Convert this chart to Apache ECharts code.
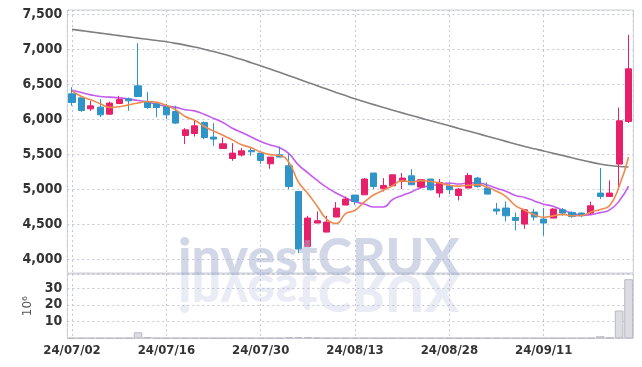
<!DOCTYPE html>
<html><head><meta charset="utf-8">
<script src="https://cdn.jsdelivr.net/npm/echarts@6/dist/echarts.min.js"></script>
<style>html,body{margin:0;padding:0;background:#fff}#c{width:642px;height:367px}</style>
</head><body><div id="c"></div>
<script>
const dates = ['24/07/02','24/07/03','24/07/04','24/07/05','24/07/08','24/07/09','24/07/10','24/07/11','24/07/12','24/07/15',
'24/07/16','24/07/17','24/07/18','24/07/19','24/07/22','24/07/23','24/07/24','24/07/25','24/07/26','24/07/29',
'24/07/30','24/07/31','24/08/01','24/08/02','24/08/05','24/08/06','24/08/07','24/08/08','24/08/09','24/08/12',
'24/08/13','24/08/14','24/08/16','24/08/19','24/08/20','24/08/21','24/08/22','24/08/23','24/08/26','24/08/27',
'24/08/28','24/08/29','24/08/30','24/09/02','24/09/03','24/09/04','24/09/05','24/09/06','24/09/09','24/09/10',
'24/09/11','24/09/12','24/09/13','24/09/19','24/09/20','24/09/23','24/09/24','24/09/25','24/09/26','24/09/27'];
const opens = [6362,6304,6147,6171,6071,6223,6290,6476,6251,6219, 6180,6109,5766,5794,5951,5743,5580,5437,5486,5551,
5514,5361,5490,5333,4966,4180,4514,4385,4600,4771, 4914,4918,5229,5004,5047,5109,5190,5028,5143,4943,
5047,4908,5014,5157,5014,4714,4728,4594,4500,4671, 4571,4585,4704,4666,4657,4657,4943,4894,5357,5966];
const closes = [6238,6123,6190,6061,6229,6280,6261,6323,6166,6166, 6061,5943,5847,5904,5737,5714,5647,5514,5547,5533,
5409,5457,5457,5037,4143,4585,4547,4528,4728,4857, 4823,5143,5037,5052,5204,5157,5061,5133,4990,5095,
4990,5000,5195,5037,4928,4685,4618,4552,4704,4600, 4514,4714,4657,4609,4618,4761,4894,4943,5976,6719];
const lows = [6190,6104,6118,6029,6061,6219,6119,6323,6147,6029, 6000,5933,5643,5751,5714,5619,5580,5404,5466,5476,
5361,5290,5457,5000,4085,4180,4514,4385,4600,4771, 4775,4918,4999,4966,5047,5000,5061,5014,4980,4880,
4928,4837,5014,5020,4928,4633,4537,4409,4433,4552, 4333,4585,4618,4590,4600,4633,4857,4894,4990,5943];
const highs = [6457,6304,6261,6286,6251,6333,6309,7086,6386,6219, 6219,6190,5871,5976,5966,5943,5737,5657,5586,5586,
5514,5457,5609,5504,4966,4618,4680,4618,4814,4894, 4914,5157,5229,5157,5204,5229,5285,5143,5143,5143,
5086,5014,5229,5175,5095,4800,4823,4666,4704,4719, 4728,4728,4728,4680,4665,4819,5300,5124,6166,7204];
const ma5 = [6404,6323,6276,6219,6168,6177,6204,6231,6252,6239, 6195,6132,6037,5984,5898,5829,5770,5703,5632,5591,
5530,5492,5481,5379,5101,4936,4754,4568,4506,4649, 4697,4816,4918,4982,5052,5119,5102,5121,5109,5087,
5054,5042,5054,5063,5030,4969,4893,4764,4697,4632, 4598,4617,4638,4619,4622,4672,4708,4765,5038,5459];
const ma10 = [6414,6380,6347,6323,6314,6304,6286,6266,6247,6210, 6186,6168,6134,6118,6069,6012,5951,5870,5808,5745,
5680,5631,5592,5506,5346,5233,5123,5025,4943,4875, 4817,4785,4743,4744,4851,4908,4959,5020,5046,5070,
5087,5072,5088,5086,5059,5012,4968,4909,4880,4831, 4784,4755,4701,4658,4627,4635,4663,4702,4829,5041];
const maLong = [7283,7265,7247,7230,7212,7194,7176,7158,7141,7123, 7105,7083,7058,7030,6999,6966,6930,6892,6851,6807,
6762,6716,6669,6621,6573,6525,6477,6429,6382,6336, 6290,6248,6207,6167,6128,6089,6051,6014,5977,5940,
5904,5867,5830,5793,5756,5719,5682,5645,5608,5575, 5545,5512,5480,5447,5415,5385,5358,5336,5322,5316];
const volume = [0.2,0.15,0.1,0.15,0.1,0.1,0.2,3.6,0.6,0.2, 0.15,0.1,0.1,0.1,0.15,0.1,0.1,0.1,0.1,0.1,
0.1,0.1,0.2,0.6,0.6,0.6,0.3,0.15,0.15,0.1, 0.1,0.15,0.1,0.1,0.1,0.1,0.1,0.1,0.1,0.1,
0.1,0.1,0.1,0.1,0.1,0.15,0.1,0.1,0.1,0.1, 0.1,0.1,0.1,0.1,0.1,0.2,1.2,0.6,16.6,35.3];

const candleData = opens.map((o,i)=>[o, closes[i], lows[i], highs[i]]);
const UP = '#e8206a', DOWN = '#2f95c8';
const LBL = {fontFamily:'"Liberation Sans Narrow","DejaVu Sans Condensed",sans-serif', fontSize:14, fontWeight:'bold', color:'#333'};
const SPLIT = {show:true, lineStyle:{color:'#c4c7d6', type:[2,3], width:1}};
const GL = 67.3, GR = 642-633.3;
const WM = '900 52px Lato, "Liberation Sans", sans-serif';

const chart = echarts.init(document.getElementById('c'), null, {renderer:'canvas'});
chart.setOption({
  animation:false,
  backgroundColor:'#fff',
  grid:[
    {left:GL, right:GR, top:10, height:263, show:true, borderColor:'#cfd0d8', borderWidth:1},
    {left:GL, right:GR, top:274, height:64.3, show:true, borderColor:'#cfd0d8', borderWidth:1}
  ],
  xAxis:[
    {type:'category', data:dates, gridIndex:0, boundaryGap:true, show:false, position:'bottom'},
    {type:'category', data:dates, gridIndex:1, boundaryGap:true, show:false, position:'top'},
    {type:'value', gridIndex:0, min:-0.5, max:59.5, splitNumber:6, minInterval:10, maxInterval:10, position:'top',
      axisLine:{show:false}, axisTick:{show:false}, axisLabel:{show:false}, splitLine:SPLIT},
    {type:'value', gridIndex:1, min:-0.5, max:59.5, splitNumber:6, minInterval:10, maxInterval:10, position:'bottom',
      axisLine:{show:false}, axisTick:{show:false}, splitLine:SPLIT,
      axisLabel:Object.assign({}, LBL, {fontSize:13, margin:6, showMinLabel:false, showMaxLabel:false,
        formatter:v=>Number.isInteger(v)&&dates[v]?dates[v]:''})}
  ],
  yAxis:[
    {type:'value', gridIndex:0, min:3800, max:7560, splitNumber:7, minInterval:500, maxInterval:500,
      axisLine:{show:false}, axisTick:{show:false}, splitLine:SPLIT,
      axisLabel:Object.assign({margin:5, showMinLabel:false, showMaxLabel:false,
        formatter:v=>v.toLocaleString('en-US')}, LBL)},
    {type:'value', gridIndex:1, min:0, max:38.4, splitNumber:4, minInterval:10, maxInterval:10,
      axisLine:{show:false}, axisTick:{show:false}, splitLine:SPLIT,
      name:'10\u2076', nameLocation:'middle', nameRotate:90, nameGap:30,
      nameTextStyle:{fontFamily:'"DejaVu Sans",sans-serif', fontSize:12, color:'#555'},
      axisLabel:Object.assign({margin:5, showMinLabel:false, showMaxLabel:false}, LBL)}
  ],
  series:[
    {type:'candlestick', xAxisIndex:0, yAxisIndex:0, data:candleData, barWidth:'70%',
      itemStyle:{color:UP, color0:DOWN, borderColor:UP, borderColor0:DOWN, borderWidth:1}, z:3},
    {type:'line', xAxisIndex:0, yAxisIndex:0, data:maLong, symbol:'none', smooth:true,
      lineStyle:{color:'#7f7f7f', width:1.6}, z:2},
    {type:'line', xAxisIndex:0, yAxisIndex:0, data:ma10, symbol:'none', smooth:true,
      lineStyle:{color:'#c55bef', width:1.6}, z:2},
    {type:'line', xAxisIndex:0, yAxisIndex:0, data:ma5, symbol:'none', smooth:true,
      lineStyle:{color:'#ef8a4e', width:1.6}, z:4},
    {type:'bar', xAxisIndex:1, yAxisIndex:1, data:volume, barCategoryGap:'8%',
      itemStyle:{color:'#dcdce3', borderColor:'#b9b9c4', borderWidth:1}}
  ],
  graphic:[
    {type:'text', x:178, y:284, z:100, silent:true,
      style:{text:'investCRUX', font:WM, fill:'rgba(165,176,210,0.5)', verticalAlign:'bottom'}},
    {type:'text', x:178, y:266, scaleY:-1, z:100, silent:true,
      style:{text:'investCRUX', font:WM, fill:'rgba(165,176,210,0.24)', verticalAlign:'bottom'}}
  ]
});
</script></body></html>
